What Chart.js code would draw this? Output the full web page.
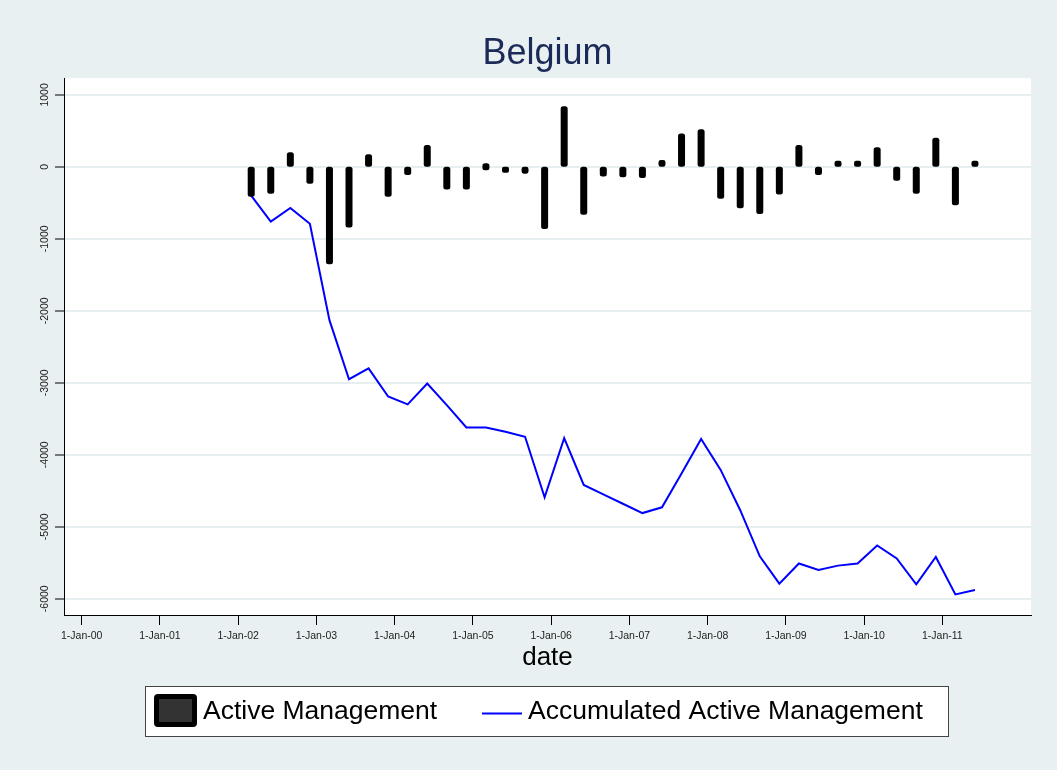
<!DOCTYPE html>
<html>
<head>
<meta charset="utf-8">
<title>Belgium</title>
<script src="https://cdn.jsdelivr.net/npm/chart.js@4.4.1/dist/chart.umd.min.js"></script>
<style>
html,body{margin:0;padding:0;background:#e8f0f2;}
canvas{display:block;}
</style>
</head>
<body>
<canvas id="canva" width="1057" height="770"></canvas>
<script>
// fechas trimestrales (anio-mes)
const fechas = ['2002-03','2002-06','2002-09','2002-12','2003-03','2003-06','2003-09','2003-12',
	'2004-03','2004-06','2004-09','2004-12','2005-03','2005-06','2005-09','2005-12',
	'2006-03','2006-06','2006-09','2006-12','2007-03','2007-06','2007-09','2007-12',
	'2008-03','2008-06','2008-09','2008-12','2009-03','2009-06','2009-09','2009-12',
	'2010-03','2010-06','2010-09','2010-12','2011-03','2011-06'];

const gestion_activa = [-400,-360,190,-220,-1340,-830,160,-400,
	-100,290,-300,-300,0,-60,-80,-850,
	830,-650,-120,-130,-140,80,450,510,
	-430,-560,-640,-370,290,-100,70,20,
	260,-180,-360,390,-520,60];

const gestion_acumulada = [-400,-760,-570,-790,-2130,-2950,-2800,-3190,
	-3300,-3010,-3310,-3620,-3620,-3680,-3750,-4590,
	-3770,-4420,-4550,-4680,-4810,-4730,-4260,-3780,
	-4210,-4770,-5410,-5790,-5510,-5600,-5540,-5510,
	-5260,-5440,-5800,-5420,-5940,-5880];

const anios_ticks = [2000,2001,2002,2003,2004,2005,2006,2007,2008,2009,2010,2011];
const etiquetas_x = ['1-Jan-00','1-Jan-01','1-Jan-02','1-Jan-03','1-Jan-04','1-Jan-05',
	'1-Jan-06','1-Jan-07','1-Jan-08','1-Jan-09','1-Jan-10','1-Jan-11'];
const ticks_y = [1000,0,-1000,-2000,-3000,-4000,-5000,-6000];

const nombres_series = ['Active Management','Accumulated Active Management'];

// "2002-03" -> anio decimal
function a_decimal(f){
	let [anio,mes] = f.split('-');
	return parseInt(anio) + (parseInt(mes) - 1) / 12;
}

Chart.defaults.font.family = '"Liberation Sans", Arial, sans-serif';
Chart.defaults.color = '#222';

// fondo blanco solo en el area del grafico
const fondo_area = {
	id:'fondo_area',
	beforeDraw(chart){
		const {ctx:c, chartArea:a} = chart;
		c.save();
		c.fillStyle = '#fff';
		c.fillRect(a.left, a.top, a.right - a.left, a.bottom - a.top);
		c.restore();
	}
};

// caja de leyenda al estilo stata
const leyenda_caja = {
	id:'leyenda_caja',
	afterDraw(chart){
		const c = chart.ctx;
		const ds = chart.data.datasets;
		c.save();
		c.fillStyle = '#fff';
		c.fillRect(145.5,686.5,803,50);
		c.strokeStyle = '#444';
		c.lineWidth = 1;
		c.strokeRect(145.5,686.5,803,50);
		// simbolo de barra
		c.fillStyle = ds[0].backgroundColor;
		c.beginPath();
		c.roundRect(154,694,43,33,4);
		c.fill();
		c.fillStyle = '#333';
		c.fillRect(159,699,33,23);
		// simbolo de linea
		c.strokeStyle = ds[1].borderColor;
		c.lineWidth = 2;
		c.beginPath();
		c.moveTo(482,713.5);
		c.lineTo(522,713.5);
		c.stroke();
		c.fillStyle = '#000';
		c.font = '26.5px "Liberation Sans", Arial, sans-serif';
		c.textBaseline = 'alphabetic';
		c.fillText(ds[0].label,203,719);
		c.fillText(ds[1].label,528,719);
		c.restore();
	}
};

const ctx = document.getElementById('canva').getContext('2d');
const grafico = new Chart(ctx, {
	type: 'bar',
	data: {
		datasets: [{
			type: 'bar',
			label: nombres_series[0],
			data: fechas.map((f,i)=>({x:a_decimal(f), y:gestion_activa[i]})),
			backgroundColor: '#000',
			barThickness: 5,
			inflateAmount: 1,
			borderRadius: 2.5,
			borderSkipped: false,
			minBarLength: 5,
			grouped: false
		},{
			type: 'line',
			label: nombres_series[1],
			data: fechas.map((f,i)=>({x:a_decimal(f), y:gestion_acumulada[i]})),
			borderColor: '#0000ff',
			borderWidth: 2,
			pointRadius: 0,
			tension: 0,
			fill: false
		}]
	},
	options: {
		responsive: false,
		animation: false,
		layout: { padding: { left: 0, right: 26, top: 0, bottom: 97 } },
		plugins: {
			legend: { display: false },
			tooltip: { enabled: false },
			title: {
				display: true,
				fullSize: false,
				text: 'Belgium',
				color: '#1c2a59',
				font: { size: 36, weight: 'normal' },
				padding: { top: 32, bottom: 3 }
			}
		},
		scales: {
			x: {
				type: 'linear',
				min: 1999.774,
				max: 2012.133,
				offset: false,
				afterBuildTicks: s=>{ s.ticks = anios_ticks.map(v=>({value:v})); },
				ticks: {
					callback: (v,i)=>etiquetas_x[i],
					font: { size: 10.5 },
					color: '#222',
					padding: 5,
					maxRotation: 0,
					autoSkip: false
				},
				grid: { offset: false, drawOnChartArea: false, tickColor: '#000', tickLength: 10, tickWidth: 1 },
				border: { color: '#000', width: 1 },
				title: { display: true, text: 'date', color: '#000', font: { size: 26 }, padding: 0 },
				afterFit: s=>{ s.height = 58; }
			},
			y: {
				type: 'linear',
				min: -6226,
				max: 1232,
				afterBuildTicks: s=>{ s.ticks = ticks_y.map(v=>({value:v})); },
				ticks: {
					callback: v=>String(v),
					font: { size: 10.5 },
					color: '#222',
					minRotation: 90,
					maxRotation: 90,
					crossAlign: 'center',
					padding: -4
				},
				grid: { color: '#e6eef0', lineWidth: 2, tickColor: '#000', tickLength: 9, tickWidth: 1 },
				border: { color: '#000', width: 1 },
				afterFit: s=>{ s.width = 64; }
			}
		}
	},
	plugins: [fondo_area, leyenda_caja]
});
</script>
</body>
</html>
